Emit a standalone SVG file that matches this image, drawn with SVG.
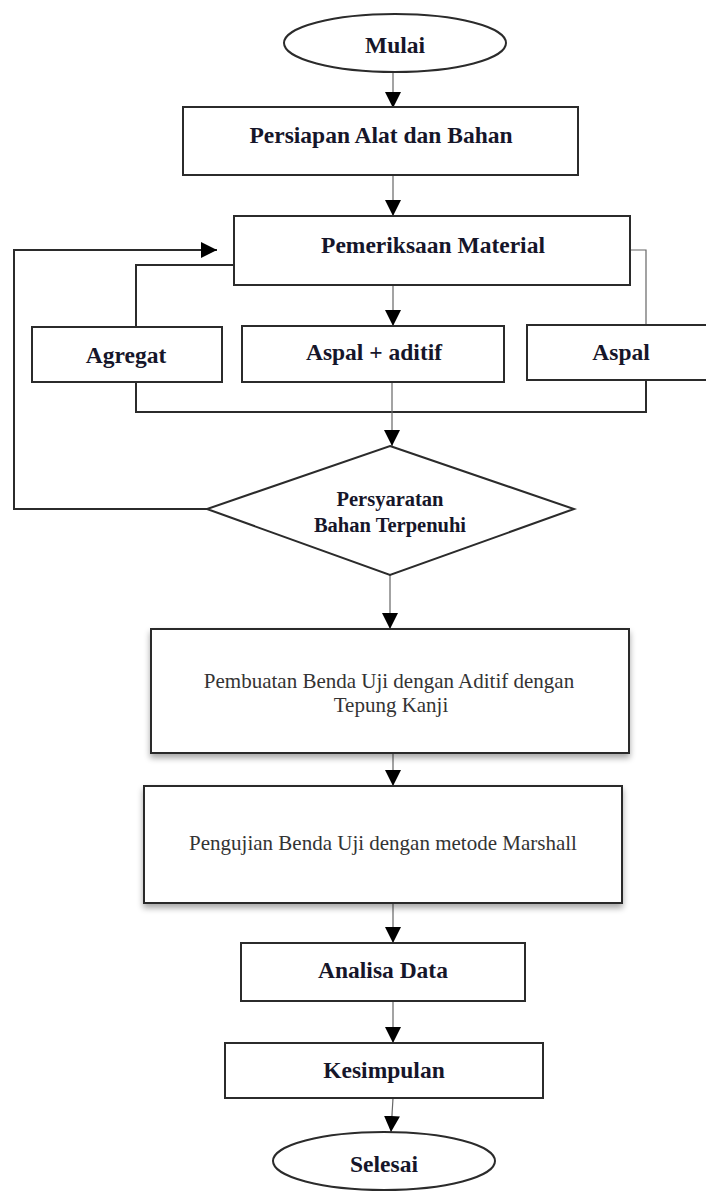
<svg xmlns="http://www.w3.org/2000/svg" width="706" height="1192" viewBox="0 0 706 1192">
<defs>
<style>
.box{fill:#fff;stroke:#2b2b2b;stroke-width:2}
.b{font-family:"Liberation Serif","Times New Roman",serif;font-weight:bold;font-size:23.5px;fill:#16162a;text-anchor:middle}
.d{font-family:"Liberation Serif","Times New Roman",serif;font-weight:bold;font-size:20.5px;fill:#16162a;text-anchor:middle}
.r{font-family:"Liberation Serif","Times New Roman",serif;font-size:21px;fill:#333;text-anchor:middle}
.thin{fill:none;stroke:#666;stroke-width:1.2}
.thick{fill:none;stroke:#2b2b2b;stroke-width:2}
</style>
<marker id="ah" viewBox="0 0 16 16" refX="16" refY="8" markerWidth="16" markerHeight="16" markerUnits="userSpaceOnUse" orient="auto">
<path d="M0,0 L16,8 L0,16 Z" fill="#000"/>
</marker>
<filter id="sh" x="-5%" y="-10%" width="110%" height="130%">
<feGaussianBlur in="SourceAlpha" stdDeviation="3"/>
<feOffset dx="0" dy="4" result="o"/>
<feComponentTransfer><feFuncA type="linear" slope="0.35"/></feComponentTransfer>
<feMerge><feMergeNode/><feMergeNode in="SourceGraphic"/></feMerge>
</filter>
</defs>
<rect width="706" height="1192" fill="#fff"/>

<g id="connectors">
<path class="thin" d="M393,72 V108" marker-end="url(#ah)"/>
<path class="thin" d="M393,175 V216" marker-end="url(#ah)"/>
<path class="thin" d="M393,285 V326" marker-end="url(#ah)"/>
<path class="thick" d="M234,265 H136 V327"/>
<path class="thin" d="M630,250 H646 V325"/>
<path class="thick" d="M136,382 V412 H646 V380"/>
<path class="thin" d="M392,382 V446" marker-end="url(#ah)"/>
<path class="thick" d="M207,509 H14 V250 H217" marker-end="url(#ah)"/>
<path class="thin" d="M390,575 V629" marker-end="url(#ah)"/>
<path class="thin" d="M393,753 V786" marker-end="url(#ah)"/>
<path class="thin" d="M393,903 V943" marker-end="url(#ah)"/>
<path class="thin" d="M393,1001 V1043" marker-end="url(#ah)"/>
<path class="thin" d="M393,1098 L391,1132" marker-end="url(#ah)"/>
</g>

<g id="mulai">
<ellipse class="box" cx="395" cy="43" rx="111" ry="29"/>
<text class="b" x="395" y="53">Mulai</text>
</g>

<g id="persiapan">
<rect class="box" x="183" y="107" width="395" height="68"/>
<text class="b" x="381" y="143">Persiapan Alat dan Bahan</text>
</g>

<g id="pemeriksaan">
<rect class="box" x="234" y="216" width="396" height="69"/>
<text class="b" x="433" y="253">Pemeriksaan Material</text>
</g>

<g id="agregat">
<rect class="box" x="32" y="327" width="190" height="55"/>
<text class="b" x="126" y="363">Agregat</text>
</g>

<g id="aspal-aditif">
<rect class="box" x="242" y="326" width="262" height="56"/>
<text class="b" x="374" y="360">Aspal + aditif</text>
</g>

<g id="aspal">
<rect class="box" x="527" y="325" width="190" height="55"/>
<text class="b" x="621" y="360">Aspal</text>
</g>

<g id="persyaratan">
<polygon class="box" points="390,446 574,509 390,575 207,509"/>
<text class="d" x="390" y="506">Persyaratan</text>
<text class="d" x="390" y="532">Bahan Terpenuhi</text>
</g>

<g id="pembuatan">
<rect class="box" x="151" y="629" width="478" height="124" filter="url(#sh)"/>
<text class="r" x="389" y="688">Pembuatan Benda Uji dengan Aditif dengan</text>
<text class="r" x="391" y="712">Tepung Kanji</text>
</g>

<g id="pengujian">
<rect class="box" x="144" y="786" width="478" height="117" filter="url(#sh)"/>
<text class="r" x="383" y="850">Pengujian Benda Uji dengan metode Marshall</text>
</g>

<g id="analisa">
<rect class="box" x="241" y="943" width="284" height="58"/>
<text class="b" x="383" y="978">Analisa Data</text>
</g>

<g id="kesimpulan">
<rect class="box" x="225" y="1043" width="318" height="55"/>
<text class="b" x="384" y="1078">Kesimpulan</text>
</g>

<g id="selesai">
<ellipse class="box" cx="384" cy="1161" rx="111" ry="29"/>
<text class="b" x="384" y="1172">Selesai</text>
</g>
</svg>
